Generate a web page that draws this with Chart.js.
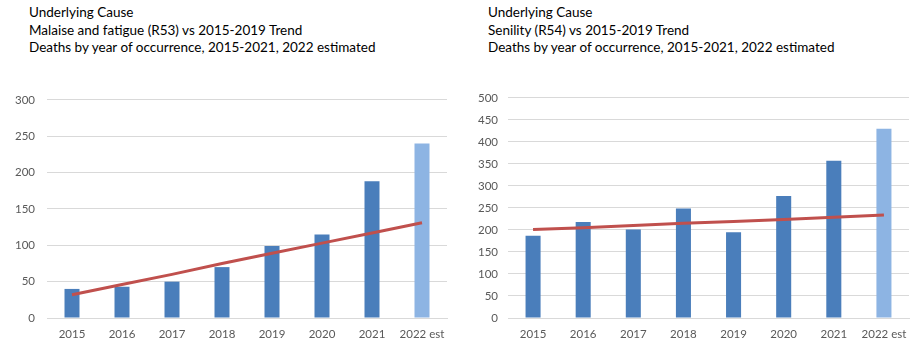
<!DOCTYPE html>
<html>
<head>
<meta charset="utf-8">
<script src="https://cdn.jsdelivr.net/npm/chart.js@4"></script>
<style>
  body { margin: 0; background: #fff; width: 919px; height: 361px; position: relative; overflow: hidden; font-family: Lato, sans-serif; }
  .title { position: absolute; top: 4px; font-size: 13.5px; line-height: 17.5px; color: #000; white-space: nowrap; }
  .box { position: absolute; top: 81px; height: 280px; }
</style>
</head>
<body>
<div class="title" style="left:29px">Underlying Cause<br>Malaise and fatigue (R53) vs 2015-2019 Trend<br>Deaths by year of occurrence, 2015-2021, 2022 estimated</div>
<div class="title" style="left:488px">Underlying Cause<br>Senility (R54) vs 2015-2019 Trend<br>Deaths by year of occurrence, 2015-2021, 2022 estimated</div>
<div class="box" style="left:0;width:460px"><canvas id="malaise"></canvas></div>
<div class="box" style="left:460px;width:459px"><canvas id="senility"></canvas></div>
<script>
// values
const years = ['2015', '2016', '2017', '2018', '2019', '2020', '2021', '2022 est'];
const malaiseDeaths = [40, 43, 50, 70, 99, 115, 188, 240];
const malaiseTrend = [32, 46, 60, 75, 89, 103, 117, 131];
const senilityDeaths = [187, 218, 201, 249, 195, 277, 357, 430];
const senilityTrend = [201, 205, 210, 215, 219, 224, 229, 234];

const barBlue = '#4A7EBB';
const barEstimate = '#8DB4E3';
const trendRed = '#C0504D';
const gridGray = '#D9D9D9';
const tickGray = '#595959';

function drawChart(id, deaths, trend, yMax, yStep, axisWidth, tickPad, rightPad) {
  const ctx = document.getElementById(id).getContext('2d');
  // last bar is the estimate, drawn lighter
  const colors = deaths.map((v, i) => i === deaths.length - 1 ? barEstimate : barBlue);
  return new Chart(ctx, {
    data: {
      labels: years,
      datasets: [
        {
          type: 'line',
          label: '2015-2019 Trend',
          data: trend,
          borderColor: trendRed,
          borderWidth: 3,
          pointRadius: 0,
          tension: 0,
          order: 0
        },
        {
          type: 'bar',
          label: 'Deaths',
          data: deaths,
          backgroundColor: colors,
          barPercentage: 0.3,
          categoryPercentage: 1,
          order: 1
        }
      ]
    },
    options: {
      responsive: true,
      maintainAspectRatio: false,
      animation: false,
      layout: { padding: { top: 1, right: rightPad, left: 0, bottom: 0 } },
      plugins: {
        legend: { display: false },
        tooltip: { enabled: false }
      },
      scales: {
        x: {
          grid: { display: false, drawTicks: false },
          border: { display: true, color: gridGray, width: 1 },
          ticks: { color: tickGray, padding: 9, font: { family: 'Lato', size: 11.5 }, maxRotation: 0, autoSkip: false },
          afterFit: (scale) => { scale.height = 43; }
        },
        y: {
          min: 0,
          max: yMax,
          grid: { color: gridGray, drawTicks: false },
          border: { display: false },
          ticks: { stepSize: yStep, color: tickGray, padding: tickPad, font: { family: 'Lato', size: 11.5 } },
          afterFit: (scale) => { scale.width = axisWidth; }
        }
      }
    }
  });
}

drawChart('malaise', malaiseDeaths, malaiseTrend, 300, 50, 47, 12, 13);
drawChart('senility', senilityDeaths, senilityTrend, 500, 50, 48, 10, 10);
</script>
</body>
</html>
